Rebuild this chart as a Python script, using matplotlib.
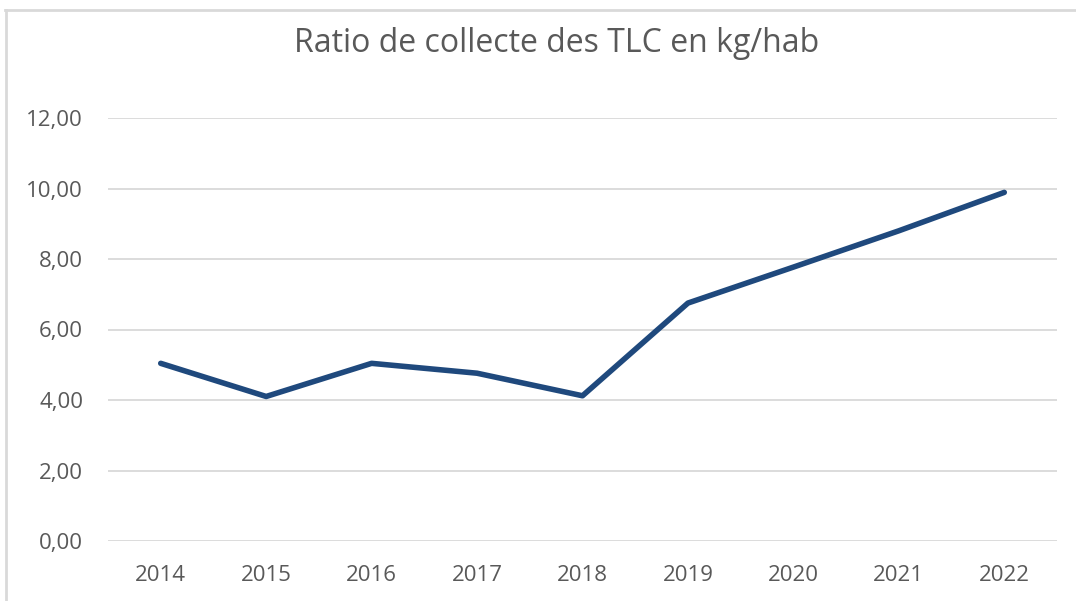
import matplotlib
matplotlib.use("Agg")
import matplotlib.pyplot as plt
from matplotlib.lines import Line2D
from matplotlib.ticker import FuncFormatter

years = ["2014", "2015", "2016", "2017", "2018", "2019", "2020", "2021", "2022"]
ratio = [5.04, 4.10, 5.04, 4.76, 4.12, 6.75, 7.77, 8.80, 9.89]
y_ticks = [0, 2, 4, 6, 8, 10, 12]

plt.rcParams['font.family'] = ['Open Sans', 'DejaVu Sans']

W, H = 1076, 601
fig = plt.figure(figsize=(W / 100, H / 100), dpi=100)
fig.patch.set_facecolor("white")

ax = fig.add_axes([108 / W, (H - 541) / H, (1057 - 108) / W, (541 - 118) / H])
x = list(range(len(years)))
ax.plot(x, ratio, color="#1F497D", linewidth=4.0, solid_capstyle="round",
        solid_joinstyle="round", zorder=3)

ax.set_xlim(-0.5, len(years) - 0.5)
ax.set_ylim(0, 12)
ax.set_yticks(y_ticks)
ax.yaxis.set_major_formatter(FuncFormatter(lambda v, p: f"{v:.2f}".replace(".", ",")))
ax.set_xticks(x)
ax.set_xticklabels(years)

ax.grid(axis="y", color="#D9D9D9", linewidth=1.3, zorder=0)
for s in ["top", "right", "left", "bottom"]:
    ax.spines[s].set_visible(False)
ax.tick_params(axis="both", length=0, labelsize=16, colors="#595959")
ax.tick_params(axis="y", pad=18)
ax.tick_params(axis="x", pad=17)

fig.text(557 / W, 1 - 44 / H, "Ratio de collecte des TLC en kg/hab",
         ha="center", va="center", fontsize=23, color="#595959")

# chart border (top and left)
fig.add_artist(Line2D([5 / W, 1.0], [1 - 10 / H, 1 - 10 / H], color="#D9D9D9",
                      linewidth=2, transform=fig.transFigure))
fig.add_artist(Line2D([6 / W, 6 / W], [0, 1 - 10 / H], color="#D9D9D9",
                      linewidth=2, transform=fig.transFigure))

fig.savefig("out.png", dpi=100, facecolor="white")
